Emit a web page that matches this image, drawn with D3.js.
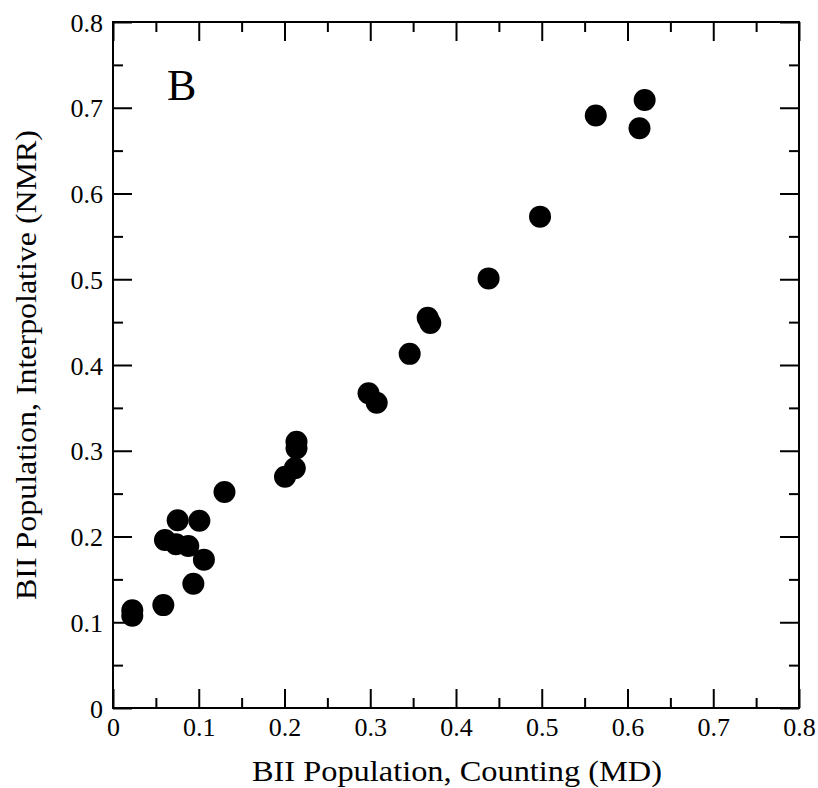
<!DOCTYPE html>
<html>
<head>
<meta charset="utf-8">
<script src="https://cdn.jsdelivr.net/npm/d3@7"></script>
<style>
  body { margin: 0; background: #fff; }
</style>
</head>
<body>
<div id="container"></div>
<script>
// BII population: counting (MD) vs interpolative (NMR)
let countingMD = [0.620, 0.614, 0.563, 0.498, 0.438, 0.367, 0.370, 0.346, 0.298, 0.3075,
  0.214, 0.214, 0.212, 0.2006, 0.130, 0.0754, 0.1007, 0.0606, 0.0735, 0.0878,
  0.106, 0.0937, 0.0587, 0.0225, 0.0225];
let interpNMR = [0.709, 0.676, 0.691, 0.573, 0.501, 0.455, 0.449, 0.413, 0.367, 0.356,
  0.3105, 0.303, 0.2795, 0.2697, 0.252, 0.219, 0.2184, 0.196, 0.191, 0.189,
  0.173, 0.145, 0.120, 0.114, 0.1077];
let majorTicks = [0, 0.1, 0.2, 0.3, 0.4, 0.5, 0.6, 0.7, 0.8];
let minorTicks = [0.05, 0.15, 0.25, 0.35, 0.45, 0.55, 0.65, 0.75];

let w = 818;
let h = 788;
let pLeft = 113, pRight = 799, pTop = 22, pBottom = 708;
let font = "'Liberation Serif', 'Times New Roman', serif";

let viz = d3.select("#container")
  .append("svg")
    .attr("width", w)
    .attr("height", h)
    .style("background-color", "white")
;

let xScale = d3.scaleLinear().domain([0, 0.8]).range([pLeft, pRight]);
let yScale = d3.scaleLinear().domain([0, 0.8]).range([pBottom, pTop]);

function fmt(d) {
  return d === 0 ? "0" : d3.format(".1f")(d);
}

// ticks pointing inward on all four sides
function addAxis(axisFn, scale, transform, labels) {
  let g = viz.append("g").attr("transform", transform);
  g.call(axisFn(scale).tickValues(minorTicks).tickSize(-10).tickFormat(""));
  let g2 = viz.append("g").attr("transform", transform);
  g2.call(axisFn(scale).tickValues(majorTicks).tickSize(-19)
    .tickFormat(labels ? fmt : "").tickPadding(labels ? 28 : 0));
  [g, g2].forEach(function(s){
    s.select(".domain").remove();
    s.selectAll("line").attr("stroke", "black").attr("stroke-width", 2);
    s.selectAll("text")
      .attr("font-family", font)
      .attr("font-size", 26)
      .attr("fill", "black");
  });
  return g2;
}

let xb = addAxis(d3.axisBottom, xScale, "translate(0," + pBottom + ")", true);
xb.selectAll("text").attr("dy", "0");
addAxis(d3.axisTop, xScale, "translate(0," + pTop + ")", false);
let yl = addAxis(d3.axisLeft, yScale, "translate(" + pLeft + ",0)", true);
yl.selectAll("text").attr("dy", "0.35em").attr("x", -10);
addAxis(d3.axisRight, yScale, "translate(" + pRight + ",0)", false);

viz.append("rect")
  .attr("x", pLeft)
  .attr("y", pTop)
  .attr("width", pRight - pLeft)
  .attr("height", pBottom - pTop)
  .attr("fill", "none")
  .attr("stroke", "black")
  .attr("stroke-width", 2);

viz.append("g").selectAll("circle")
  .data(countingMD)
  .enter()
  .append("circle")
    .attr("cx", function(d){ return xScale(d); })
    .attr("cy", function(d, i){ return yScale(interpNMR[i]); })
    .attr("r", 11)
    .attr("fill", "black");

viz.append("text")
  .text("B")
  .attr("x", 167)
  .attr("y", 100)
  .attr("font-family", font)
  .attr("font-size", 44)
  .attr("fill", "black");

viz.append("text")
  .text("BII Population, Counting (MD)")
  .attr("x", 457)
  .attr("y", 781)
  .attr("text-anchor", "middle")
  .attr("font-family", font)
  .attr("font-size", 30)
  .attr("textLength", 410)
  .attr("lengthAdjust", "spacingAndGlyphs")
  .attr("fill", "black");

viz.append("text")
  .text("BII Population, Interpolative (NMR)")
  .attr("transform", "translate(36,365) rotate(-90)")
  .attr("text-anchor", "middle")
  .attr("font-family", font)
  .attr("font-size", 30)
  .attr("textLength", 470)
  .attr("lengthAdjust", "spacingAndGlyphs")
  .attr("fill", "black");
</script>
</body>
</html>
